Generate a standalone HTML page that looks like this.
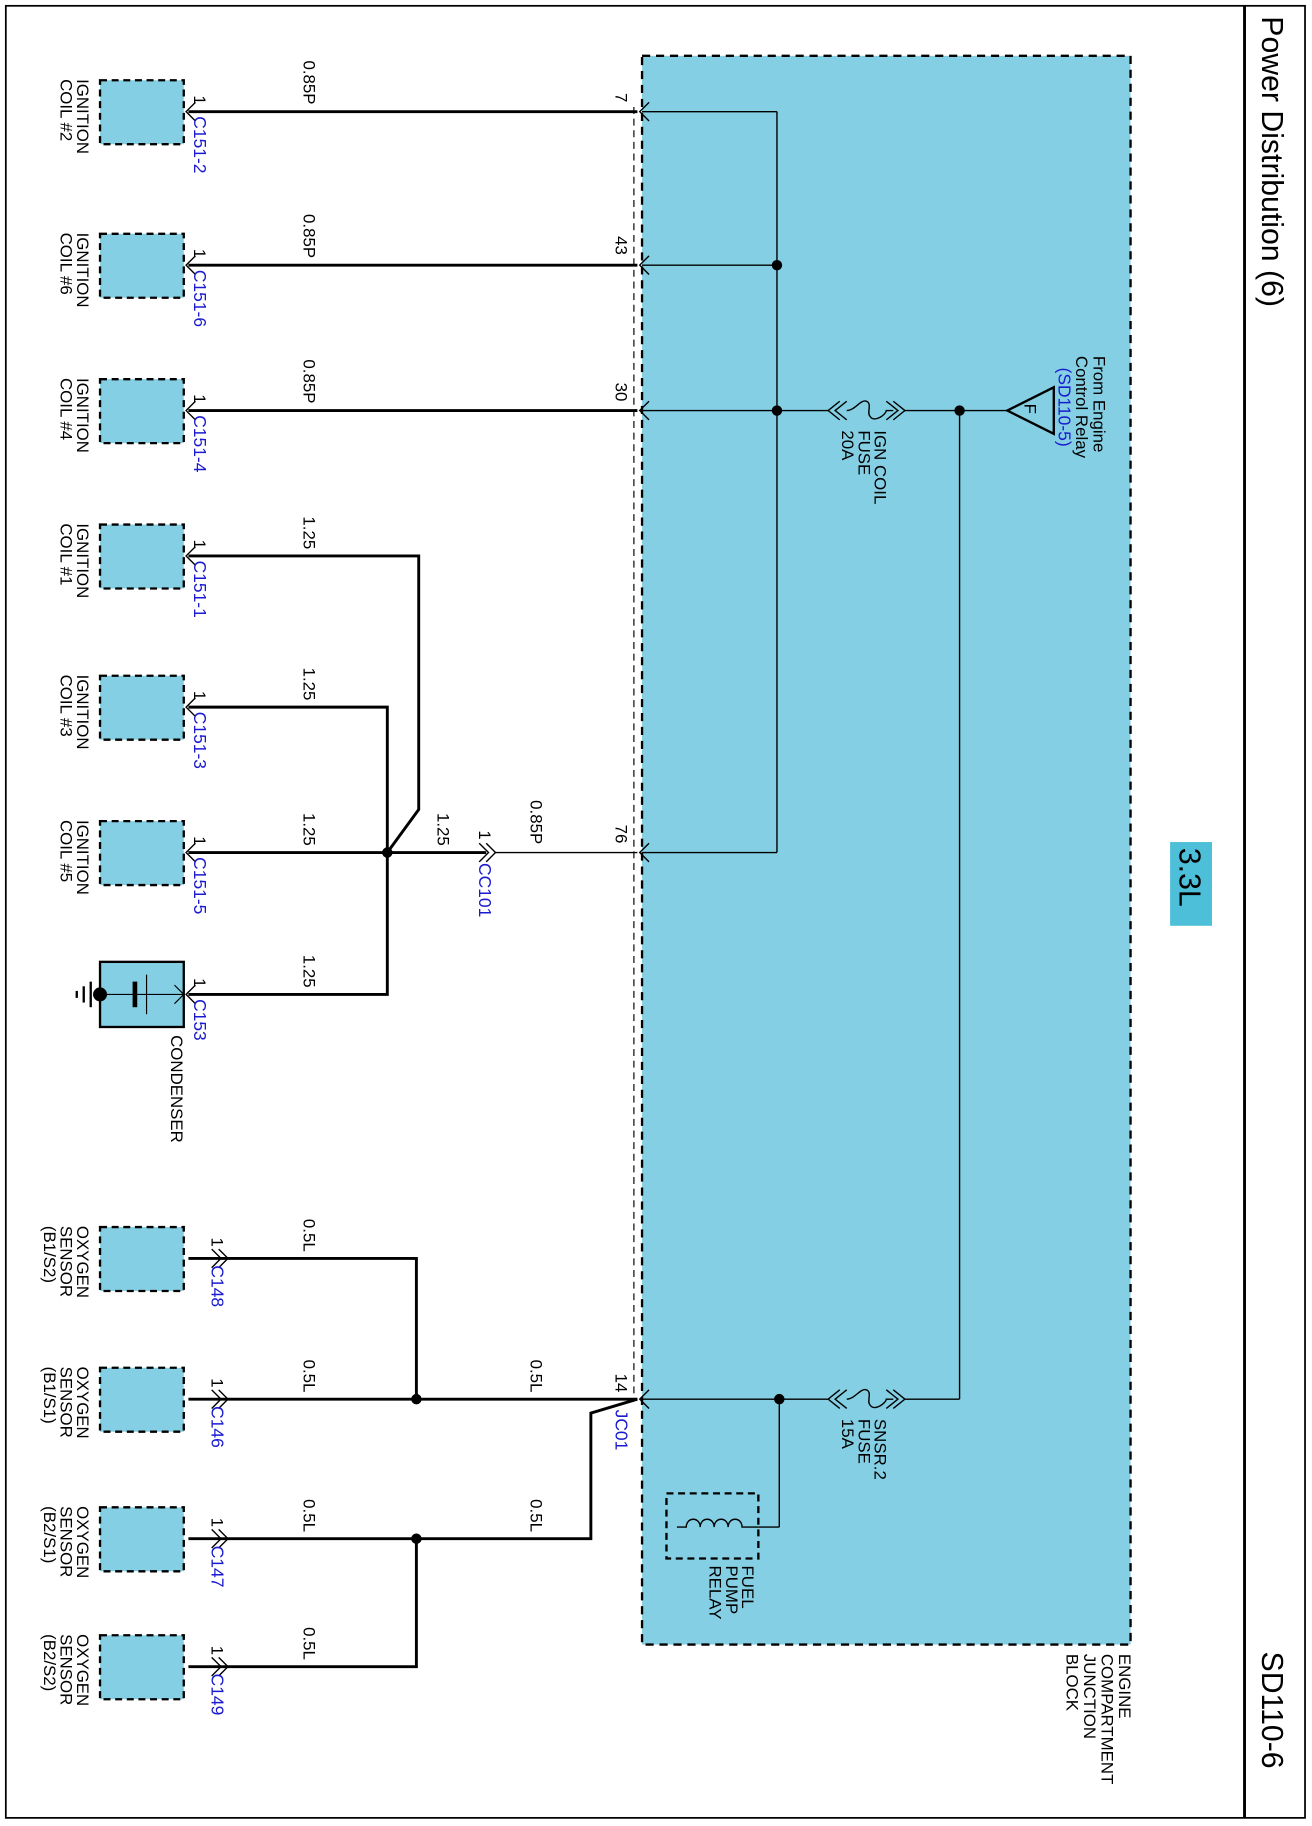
<!DOCTYPE html>
<html><head><meta charset="utf-8">
<style>
html,body{margin:0;padding:0;background:#fff;}
svg{display:block;}
text{font-family:"Liberation Sans",sans-serif;font-size:14.5px;fill:#000;}
.b{fill:#1a1ad0;font-size:15px;}
.t{font-size:26px;}
</style></head>
<body>
<svg width="1312" height="1826" viewBox="0 0 1128 1570" preserveAspectRatio="none" xmlns="http://www.w3.org/2000/svg">
<rect x="0" y="0" width="1128" height="1570" fill="#fff"/>
<rect x="5" y="5" width="1117" height="1558" fill="none" stroke="#000" stroke-width="1.5"/>
<line x1="1070" y1="5" x2="1070" y2="1563" stroke="#000" stroke-width="2.5"/>
<text class="t" transform="translate(1085,14) rotate(90)">Power Distribution (6)</text>
<text class="t" transform="translate(1085,1420) rotate(90)">SD110-6</text>

<rect x="552" y="48" width="420" height="1366" fill="#84cfe3" stroke="#000" stroke-width="2" stroke-dasharray="7,5"/>
<line x1="545" y1="92" x2="545" y2="1200" stroke="#000" stroke-width="1" stroke-dasharray="6,4"/>
<text transform="translate(962,1422) rotate(90)">ENGINE</text>
<text transform="translate(947,1422) rotate(90)">COMPARTMENT</text>
<text transform="translate(932,1422) rotate(90)">JUNCTION</text>
<text transform="translate(917,1422) rotate(90)">BLOCK</text>

<rect x="1006" y="724" width="36" height="72" fill="#4dbfd9"/>
<text transform="translate(1014,729) rotate(90)" style="font-size:26px">3.3L</text>

<g stroke="#000" stroke-width="1.2" fill="none">
<line x1="552" y1="96" x2="668" y2="96"/>
<line x1="552" y1="228" x2="668" y2="228"/>
<line x1="552" y1="353" x2="712" y2="353"/>
<line x1="552" y1="733" x2="668" y2="733"/>
<line x1="668" y1="96" x2="668" y2="733"/>
<line x1="778" y1="353" x2="866" y2="353"/>
<line x1="825" y1="353" x2="825" y2="1203"/>
<line x1="778" y1="1203" x2="825" y2="1203"/>
<line x1="552" y1="1203" x2="712" y2="1203"/>
<line x1="670" y1="1203" x2="670" y2="1313"/>
<line x1="652" y1="1313" x2="670" y2="1313"/>
<polyline points="722,345 712,353 722,361"/><polyline points="728,345 718,353 728,361"/>
<path d="M728,353 C735,353 740,343 745,345 C750,347 745,355 748,358 C752,364 762,356 762,353 L768,353"/>
<polyline points="768,345 778,353 768,361"/><polyline points="762,345 772,353 762,361"/>
<polyline points="722,1195 712,1203 722,1211"/><polyline points="728,1195 718,1203 728,1211"/>
<path d="M728,1203 C735,1203 740,1193 745,1195 C750,1197 745,1205 748,1208 C752,1214 762,1206 762,1203 L768,1203"/>
<polyline points="768,1195 778,1203 768,1211"/><polyline points="762,1195 772,1203 762,1211"/>
<polyline points="558,88 550,96 558,104"/>
<polyline points="558,220 550,228 558,236"/>
<polyline points="558,345 550,353 558,361"/>
<polyline points="558,725 550,733 558,741"/>
<polyline points="558,1195 550,1203 558,1211"/>
<path d="M582,1313 L590,1313 C590,1304 602,1304 602,1313 C602,1304 614,1304 614,1313 C614,1304 626,1304 626,1313 C626,1304 638,1304 638,1313 L652,1313"/>
</g>
<rect x="573" y="1284" width="79" height="56" fill="none" stroke="#000" stroke-width="2" stroke-dasharray="6,4"/>
<text transform="translate(638,1346) rotate(90)">FUEL</text>
<text transform="translate(624,1346) rotate(90)">PUMP</text>
<text transform="translate(610,1346) rotate(90)">RELAY</text>

<polygon points="866,353 906,333 906,373" fill="none" stroke="#000" stroke-width="2"/>
<text transform="translate(881,347) rotate(90)">F</text>
<text transform="translate(940,306) rotate(90)">From Engine</text>
<text transform="translate(925,306) rotate(90)">Control Relay</text>
<text class="b" transform="translate(910,316) rotate(90)">(SD110-5)</text>
<text transform="translate(752,370) rotate(90)">IGN COIL</text>
<text transform="translate(738,370) rotate(90)">FUSE</text>
<text transform="translate(724,370) rotate(90)">20A</text>
<text transform="translate(752,1220) rotate(90)">SNSR.2</text>
<text transform="translate(738,1220) rotate(90)">FUSE</text>
<text transform="translate(724,1220) rotate(90)">15A</text>

<g fill="#000">
<circle cx="668" cy="228" r="4.5"/><circle cx="668" cy="353" r="4.5"/>
<circle cx="825" cy="353" r="4.5"/><circle cx="670" cy="1203" r="4.5"/>
<circle cx="333" cy="733" r="4.5"/><circle cx="358" cy="1203" r="4.5"/><circle cx="358" cy="1323" r="4.5"/>
</g>

<g stroke="#000" stroke-width="2.5" fill="none">
<line x1="162" y1="96" x2="548" y2="96"/>
<line x1="162" y1="228" x2="548" y2="228"/>
<line x1="162" y1="353" x2="548" y2="353"/>
<polyline points="162,478 360,478 360,696 333,733"/>
<polyline points="162,608 333,608 333,855 162,855"/>
<line x1="162" y1="733" x2="418" y2="733"/>
<polyline points="162,1082 358,1082 358,1203"/>
<line x1="162" y1="1203" x2="548" y2="1203"/>
<polyline points="162,1323 508,1323 508,1215 548,1203"/>
<polyline points="162,1433 358,1433 358,1323"/>
</g>
<line x1="425" y1="733" x2="548" y2="733" stroke="#000" stroke-width="1.2"/>
<g stroke="#000" stroke-width="1.2" fill="none">
<polyline points="412,725 420,733 412,741"/><polyline points="418,725 426,733 418,741"/>
<polyline points="168,88 160,96 168,104"/>
<polyline points="168,220 160,228 168,236"/>
<polyline points="168,345 160,353 168,361"/>
<polyline points="168,470 160,478 168,486"/>
<polyline points="168,600 160,608 168,616"/>
<polyline points="168,725 160,733 168,741"/>
<polyline points="168,847 160,855 168,863"/>
<polyline points="182,1074 190,1082 182,1090"/><polyline points="188,1074 196,1082 188,1090"/>
<polyline points="182,1195 190,1203 182,1211"/><polyline points="188,1195 196,1203 188,1211"/>
<polyline points="182,1315 190,1323 182,1331"/><polyline points="188,1315 196,1323 188,1331"/>
<polyline points="182,1425 190,1433 182,1441"/><polyline points="188,1425 196,1433 188,1441"/>
</g>

<g fill="#84cfe3" stroke="#000" stroke-width="2" stroke-dasharray="6,4">
<rect x="86" y="69" width="72" height="55"/>
<rect x="86" y="201" width="72" height="55"/>
<rect x="86" y="326" width="72" height="55"/>
<rect x="86" y="451" width="72" height="55"/>
<rect x="86" y="581" width="72" height="55"/>
<rect x="86" y="706" width="72" height="55"/>
<rect x="86" y="1055" width="72" height="55"/>
<rect x="86" y="1176" width="72" height="55"/>
<rect x="86" y="1296" width="72" height="55"/>
<rect x="86" y="1406" width="72" height="55"/>
</g>
<rect x="86" y="827" width="72" height="56" fill="#84cfe3" stroke="#000" stroke-width="2"/>
<g stroke="#000" fill="none">
<line x1="86" y1="855" x2="158" y2="855" stroke-width="1"/>
<line x1="116" y1="844" x2="116" y2="866" stroke-width="4"/>
<line x1="126" y1="838" x2="126" y2="872" stroke-width="1"/>
<polyline points="150,847 158,855 150,863" stroke-width="1"/>
<line x1="78" y1="844" x2="78" y2="866" stroke-width="2"/>
<line x1="72" y1="848" x2="72" y2="862" stroke-width="2"/>
<line x1="66" y1="852" x2="66" y2="858" stroke-width="2"/>
</g>
<circle cx="86" cy="855" r="6" fill="#000"/>
<text transform="translate(147,890) rotate(90)">CONDENSER</text>

<text transform="translate(66,68) rotate(90)">IGNITION</text><text transform="translate(52,68) rotate(90)">COIL #2</text>
<text transform="translate(66,200) rotate(90)">IGNITION</text><text transform="translate(52,200) rotate(90)">COIL #6</text>
<text transform="translate(66,325) rotate(90)">IGNITION</text><text transform="translate(52,325) rotate(90)">COIL #4</text>
<text transform="translate(66,450) rotate(90)">IGNITION</text><text transform="translate(52,450) rotate(90)">COIL #1</text>
<text transform="translate(66,580) rotate(90)">IGNITION</text><text transform="translate(52,580) rotate(90)">COIL #3</text>
<text transform="translate(66,705) rotate(90)">IGNITION</text><text transform="translate(52,705) rotate(90)">COIL #5</text>
<text transform="translate(66,1054) rotate(90)">OXYGEN</text><text transform="translate(52,1054) rotate(90)">SENSOR</text><text transform="translate(38,1054) rotate(90)">(B1/S2)</text>
<text transform="translate(66,1175) rotate(90)">OXYGEN</text><text transform="translate(52,1175) rotate(90)">SENSOR</text><text transform="translate(38,1175) rotate(90)">(B1/S1)</text>
<text transform="translate(66,1295) rotate(90)">OXYGEN</text><text transform="translate(52,1295) rotate(90)">SENSOR</text><text transform="translate(38,1295) rotate(90)">(B2/S1)</text>
<text transform="translate(66,1405) rotate(90)">OXYGEN</text><text transform="translate(52,1405) rotate(90)">SENSOR</text><text transform="translate(38,1405) rotate(90)">(B2/S2)</text>

<text transform="translate(167,82) rotate(90)">1</text><text class="b" transform="translate(167,100) rotate(90)">C151-2</text>
<text transform="translate(167,214) rotate(90)">1</text><text class="b" transform="translate(167,232) rotate(90)">C151-6</text>
<text transform="translate(167,339) rotate(90)">1</text><text class="b" transform="translate(167,357) rotate(90)">C151-4</text>
<text transform="translate(167,464) rotate(90)">1</text><text class="b" transform="translate(167,482) rotate(90)">C151-1</text>
<text transform="translate(167,594) rotate(90)">1</text><text class="b" transform="translate(167,612) rotate(90)">C151-3</text>
<text transform="translate(167,719) rotate(90)">1</text><text class="b" transform="translate(167,737) rotate(90)">C151-5</text>
<text transform="translate(167,841) rotate(90)">1</text><text class="b" transform="translate(167,859) rotate(90)">C153</text>
<text transform="translate(182,1064) rotate(90)">1</text><text class="b" transform="translate(182,1088) rotate(90)">C148</text>
<text transform="translate(182,1185) rotate(90)">1</text><text class="b" transform="translate(182,1209) rotate(90)">C146</text>
<text transform="translate(182,1305) rotate(90)">1</text><text class="b" transform="translate(182,1329) rotate(90)">C147</text>
<text transform="translate(182,1415) rotate(90)">1</text><text class="b" transform="translate(182,1439) rotate(90)">C149</text>
<text transform="translate(412,714) rotate(90)">1</text><text class="b" transform="translate(412,742) rotate(90)">CC101</text>
<text class="b" transform="translate(529,1212) rotate(90)">JC01</text>

<text transform="translate(529,80) rotate(90)">7</text>
<text transform="translate(529,203) rotate(90)">43</text>
<text transform="translate(529,329) rotate(90)">30</text>
<text transform="translate(529,709) rotate(90)">76</text>
<text transform="translate(529,1181) rotate(90)">14</text>

<text transform="translate(261,52) rotate(90)">0.85P</text>
<text transform="translate(261,184) rotate(90)">0.85P</text>
<text transform="translate(261,309) rotate(90)">0.85P</text>
<text transform="translate(261,444) rotate(90)">1.25</text>
<text transform="translate(261,574) rotate(90)">1.25</text>
<text transform="translate(261,699) rotate(90)">1.25</text>
<text transform="translate(261,821) rotate(90)">1.25</text>
<text transform="translate(376,699) rotate(90)">1.25</text>
<text transform="translate(456,688) rotate(90)">0.85P</text>
<text transform="translate(261,1048) rotate(90)">0.5L</text>
<text transform="translate(261,1169) rotate(90)">0.5L</text>
<text transform="translate(456,1169) rotate(90)">0.5L</text>
<text transform="translate(261,1289) rotate(90)">0.5L</text>
<text transform="translate(456,1289) rotate(90)">0.5L</text>
<text transform="translate(261,1399) rotate(90)">0.5L</text>
</svg>
</body></html>
